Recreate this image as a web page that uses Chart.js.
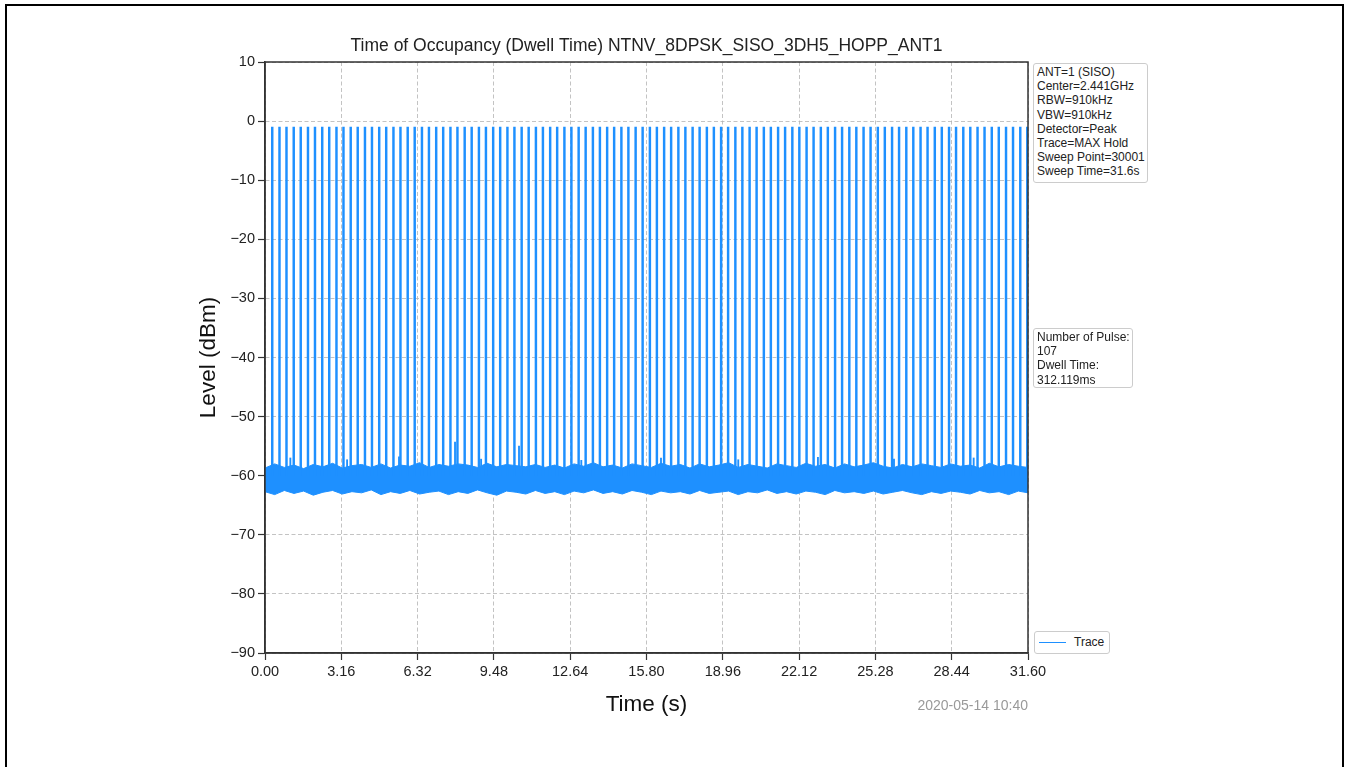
<!DOCTYPE html>
<html>
<head>
<meta charset="utf-8">
<script src="https://cdn.jsdelivr.net/npm/chart.js@4/dist/chart.umd.min.js"></script>
<style>
  html, body { margin: 0; padding: 0; background: #fff; }
  body { width: 1349px; height: 767px; position: relative; overflow: hidden; font-family: "Liberation Sans", Arial, sans-serif; }
  #frame { position: absolute; left: 5px; top: 4px; width: 1339px; height: 800px; border: 2px solid #000; box-sizing: border-box; }
  #wrap { position: absolute; left: 0; top: 0; width: 1349px; height: 767px; }
  .box { position: absolute; background: #fff; border: 1px solid #ccc; border-radius: 3px; font-size: 12px; line-height: 14.2px; color: #222; padding: 1px 3px; box-sizing: border-box; white-space: nowrap; }
  #info1 { left: 1033px; top: 63px; width: 115px; height: 120px; }
  #info2 { left: 1033px; top: 328px; width: 100px; height: 60px; }
  #legend { left: 1034px; top: 631px; width: 76px; height: 23px; }
  #legend .swatch { position: absolute; left: 4px; top: 10px; width: 27px; height: 0; border-top: 1.5px solid #1E90FF; }
  #legend .lbl { position: absolute; left: 39px; top: 3px; }
  #stamp { position: absolute; right: 321px; top: 697px; font-size: 14px; color: #999; }
</style>
</head>
<body>
<div id="frame"></div>
<div id="wrap"><canvas id="dwellChart" width="1349" height="767"></canvas></div>
<div class="box" id="info1">ANT=1 (SISO)<br>Center=2.441GHz<br>RBW=910kHz<br>VBW=910kHz<br>Detector=Peak<br>Trace=MAX Hold<br>Sweep Point=30001<br>Sweep Time=31.6s</div>
<div class="box" id="info2">Number of Pulse:<br>107<br>Dwell Time:<br>312.119ms</div>
<div class="box" id="legend"><div class="swatch"></div><div class="lbl">Trace</div></div>
<div id="stamp">2020-05-14 10:40</div>
<script>
// tick labels
const xTickValues = [0, 3.16, 6.32, 9.48, 12.64, 15.80, 18.96, 22.12, 25.28, 28.44, 31.60];
const yTickValues = [-90, -80, -70, -60, -50, -40, -30, -20, -10, 0, 10];

// hop pulses (s), peak level and floor (dBm)
const pulseTimes = [
  0.30, 0.60, 0.89, 1.19, 1.48, 1.78, 2.07, 2.37, 2.66, 2.96,
  3.25, 3.55, 3.84, 4.14, 4.43, 4.73, 5.02, 5.32, 5.61, 5.91,
  6.20, 6.50, 6.79, 7.09, 7.38, 7.68, 7.97, 8.27, 8.56, 8.86,
  9.15, 9.45, 9.74, 10.04, 10.33, 10.63, 10.92, 11.22, 11.51, 11.81,
  12.10, 12.40, 12.69, 12.99, 13.28, 13.58, 13.87, 14.17, 14.46, 14.76,
  15.05, 15.35, 15.64, 15.94, 16.23, 16.53, 16.82, 17.12, 17.41, 17.71,
  18.00, 18.30, 18.59, 18.89, 19.18, 19.48, 19.77, 20.07, 20.36, 20.66,
  20.95, 21.25, 21.54, 21.84, 22.13, 22.43, 22.72, 23.02, 23.31, 23.61,
  23.90, 24.20, 24.49, 24.79, 25.08, 25.38, 25.67, 25.97, 26.26, 26.56,
  26.85, 27.15, 27.44, 27.74, 28.03, 28.33, 28.62, 28.92, 29.21, 29.51,
  29.80, 30.10, 30.39, 30.69, 30.98, 31.28, 31.57
];
const pulsePeak = -1;
const pulseBase = -60;

// small spurs sticking out of the noise floor
const spurTimes = [1.05, 3.40, 5.55, 7.87, 8.95, 10.52, 13.10, 16.40, 19.60, 22.90, 26.05, 29.35];
const spurLevels = [-57.0, -57.3, -56.8, -54.3, -57.2, -55.0, -57.4, -57.0, -57.3, -56.9, -57.2, -57.0];

// noise floor envelope, sampled every 0.4 s
const noiseTimes = [
  0.0, 0.4, 0.8, 1.2, 1.6, 2.0, 2.4, 2.8, 3.2, 3.6,
  4.0, 4.4, 4.8, 5.2, 5.6, 6.0, 6.4, 6.8, 7.2, 7.6,
  8.0, 8.4, 8.8, 9.2, 9.6, 10.0, 10.4, 10.8, 11.2, 11.6,
  12.0, 12.4, 12.8, 13.2, 13.6, 14.0, 14.4, 14.8, 15.2, 15.6,
  16.0, 16.4, 16.8, 17.2, 17.6, 18.0, 18.4, 18.8, 19.2, 19.6,
  20.0, 20.4, 20.8, 21.2, 21.6, 22.0, 22.4, 22.8, 23.2, 23.6,
  24.0, 24.4, 24.8, 25.2, 25.6, 26.0, 26.4, 26.8, 27.2, 27.6,
  28.0, 28.4, 28.8, 29.2, 29.6, 30.0, 30.4, 30.8, 31.2, 31.6
];
const noiseUpper = [
  -58.7, -58.0, -58.6, -58.2, -58.8, -58.1, -58.5, -57.9, -58.7, -58.3,
  -58.1, -58.6, -58.0, -58.7, -58.2, -58.4, -57.8, -58.6, -58.1, -58.4,
  -58.0, -58.2, -58.6, -57.9, -58.5, -58.1, -58.3, -58.5, -58.1, -58.6,
  -58.2, -58.7, -58.0, -58.4, -57.8, -58.5, -58.2, -58.7, -58.0, -58.3,
  -58.6, -57.9, -58.4, -58.1, -58.7, -58.0, -58.5, -58.2, -57.8, -58.6,
  -58.1, -58.4, -58.7, -58.0, -58.3, -58.6, -57.9, -58.4, -58.1, -58.7,
  -58.0, -58.5, -58.2, -57.8, -58.4, -58.7, -58.1, -58.5, -58.0, -58.3,
  -58.6, -58.0, -58.4, -58.2, -58.7, -57.9, -58.5, -58.1, -58.4, -58.6
];
const noiseLower = [
  -62.7, -63.2, -62.5, -63.0, -62.6, -63.3, -62.8, -62.5, -63.1, -62.7,
  -62.9, -62.4, -63.2, -62.7, -63.0, -62.5, -63.1, -62.8, -62.6, -63.2,
  -62.7, -63.0, -62.4, -62.9, -63.3, -62.6, -62.8, -63.1, -62.5, -63.0,
  -62.7, -63.2, -62.6, -62.9, -62.4, -63.0, -62.7, -63.1, -62.5, -62.8,
  -63.2, -62.6, -62.9, -62.7, -63.1, -62.5, -63.0, -62.8, -62.6, -63.2,
  -62.7, -62.9, -62.4, -63.0, -62.7, -63.1, -62.6, -62.8, -63.2, -62.5,
  -62.9, -62.7, -63.0, -62.6, -63.1, -62.8, -62.5, -62.9, -63.2, -62.7,
  -63.0, -62.6, -62.8, -63.1, -62.5, -62.9, -62.7, -63.2, -62.6, -62.9
];

const traceColor = '#1E90FF';
const fontFamily = '"Liberation Sans", Arial, sans-serif';

// title + top/right spines, drawn over the chart area
const framePlugin = {
  id: 'frameAndTitle',
  afterDraw(chart) {
    const { ctx, chartArea: a } = chart;
    ctx.save();
    ctx.strokeStyle = '#333';
    ctx.lineWidth = 1.5;
    ctx.strokeRect(a.left, a.top, a.right - a.left, a.bottom - a.top);
    ctx.fillStyle = '#222';
    ctx.font = '17.5px ' + fontFamily;
    ctx.textAlign = 'center';
    ctx.textBaseline = 'middle';
    ctx.fillText('Time of Occupancy (Dwell Time) NTNV_8DPSK_SISO_3DH5_HOPP_ANT1', (a.left + a.right) / 2, 46);
    ctx.restore();
  }
};

const gridOpts = {
  color: '#b4b4b4',
  lineWidth: 0.8,
  offset: false,
  tickLength: 7,
  tickColor: '#333',
  tickWidth: 1.2,
  tickBorderDash: []
};
const borderOpts = { display: true, color: '#333', width: 1.5, dash: [4, 2.5] };

new Chart(document.getElementById('dwellChart'), {
  type: 'bar',
  data: {
    datasets: [
      {
        type: 'bar',
        label: 'Trace',
        data: pulseTimes.map(t => ({ x: t, y: [pulseBase, pulsePeak] })),
        backgroundColor: traceColor,
        borderWidth: 0,
        barThickness: 1.8,
        grouped: false
      },
      {
        type: 'line',
        label: 'floor-low',
        data: noiseTimes.map((t, i) => ({ x: t, y: noiseLower[i] })),
        borderColor: traceColor,
        borderWidth: 1,
        pointRadius: 0,
        fill: false
      },
      {
        type: 'line',
        label: 'floor-high',
        data: noiseTimes.map((t, i) => ({ x: t, y: noiseUpper[i] })),
        borderColor: traceColor,
        backgroundColor: traceColor,
        borderWidth: 1,
        pointRadius: 0,
        fill: 1
      },
      {
        type: 'bar',
        label: 'spurs',
        data: spurTimes.map((t, i) => ({ x: t, y: [-60, spurLevels[i]] })),
        backgroundColor: traceColor,
        borderWidth: 0,
        barThickness: 1.2,
        grouped: false
      }
    ]
  },
  options: {
    responsive: false,
    animation: false,
    layout: { padding: { left: 180, right: 321, top: 62, bottom: 47 } },
    plugins: {
      legend: { display: false },
      tooltip: { enabled: false },
      title: { display: false }
    },
    scales: {
      x: {
        type: 'linear',
        min: 0,
        max: 31.6,
        offset: false,
        afterBuildTicks: s => { s.ticks = xTickValues.map(v => ({ value: v })); },
        afterFit: s => { s.height = 67; },
        ticks: {
          callback: v => Number(v).toFixed(2),
          font: { family: fontFamily, size: 14.5 },
          color: '#222',
          padding: 3,
          maxRotation: 0,
          autoSkip: false
        },
        grid: gridOpts,
        border: borderOpts,
        title: { display: true, text: 'Time (s)', font: { family: fontFamily, size: 22.5 }, color: '#111', padding: { top: 0, bottom: 2 } }
      },
      y: {
        type: 'linear',
        min: -90,
        max: 10,
        afterBuildTicks: s => { s.ticks = yTickValues.map(v => ({ value: v })); },
        afterFit: s => { s.width = 85; },
        ticks: {
          callback: v => (v < 0 ? '\u2212' + Math.abs(v) : String(v)),
          font: { family: fontFamily, size: 14.5 },
          color: '#222',
          padding: 3
        },
        grid: gridOpts,
        border: borderOpts,
        title: { display: true, text: 'Level (dBm)', font: { family: fontFamily, size: 22.5 }, color: '#111', padding: { top: 15, bottom: 0 } }
      }
    }
  },
  plugins: [framePlugin]
});
</script>
</body>
</html>
